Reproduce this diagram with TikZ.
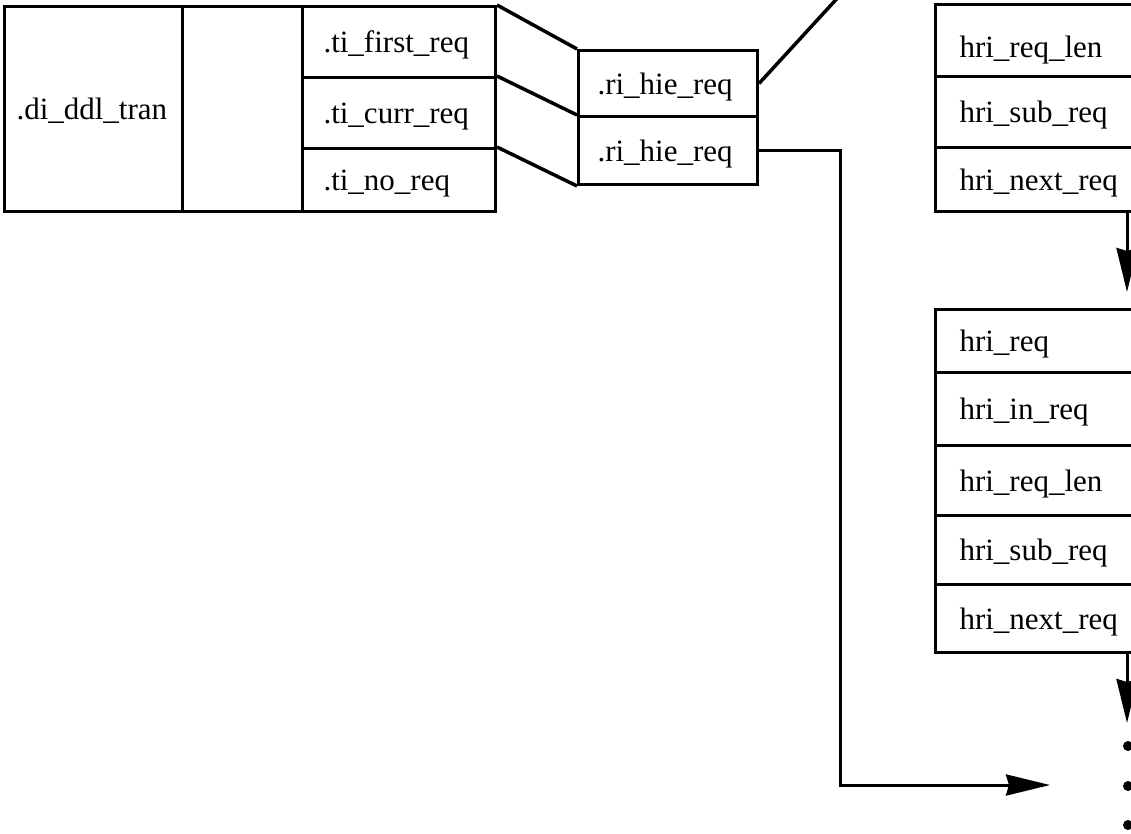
\documentclass[tikz,border=0pt]{standalone}
\usepackage{fontspec}
\setmainfont{Liberation Serif}
\usetikzlibrary{arrows.meta}
\begin{document}
\begin{tikzpicture}[x=1pt,y=-1pt,
  cell/.style={draw, line width=3pt, anchor=north west, inner ysep=0pt, align=left,
    text height=28pt, text depth=6.6pt, font=\fontsize{31}{36}\selectfont},
  low/.style={text height=40pt},
  lcell/.style={cell, inner xsep=12pt, text width=154pt},
  tcell/.style={cell, inner xsep=21pt, text width=151pt},
  mcell/.style={cell, inner xsep=19pt, text width=141pt},
  rcell/.style={cell, inner xsep=24pt, text width=232pt},
  conn/.style={line width=3.5pt},
  arr/.style={line width=3pt, -{Stealth[length=44pt,width=21pt,inset=3pt]}},
  dot/.style={circle, fill, inner sep=0pt, minimum size=10pt},
]
\useasboundingbox (0,0) rectangle (1131,833);
\clip (0,0) rectangle (1131,833);

% left structure
\node[lcell, minimum height=205pt] (A) at (3,5) {.di\_ddl\_tran};
\node[cell, minimum width=120pt, minimum height=205pt] (B) at (181,5) {};
\node[tcell, minimum height=71pt] (C1) at (301,5) {.ti\_first\_req};
\node[tcell, minimum height=71pt] (C2) at (301,76) {.ti\_curr\_req};
\node[tcell, minimum height=63pt] (C3) at (301,147) {.ti\_no\_req};

% middle structure
\node[mcell, minimum height=66pt] (M1) at (577,49) {.ri\_hie\_req};
\node[mcell, minimum height=68pt] (M2) at (577,115) {.ri\_hie\_req};

% right structure, first element
\node[rcell, low, minimum height=72pt] (R1a) at (934,3) {hri\_req\_len};
\node[rcell, minimum height=71pt] (R1b) at (934,75) {hri\_sub\_req};
\node[rcell, minimum height=64pt] (R1c) at (934,146) {hri\_next\_req};

% right structure, second element
\node[rcell, minimum height=63pt] (R2a) at (934,308) {hri\_req};
\node[rcell, minimum height=73pt] (R2b) at (934,371) {hri\_in\_req};
\node[rcell, minimum height=70pt] (R2c) at (934,444) {hri\_req\_len};
\node[rcell, minimum height=69pt] (R2d) at (934,514) {hri\_sub\_req};
\node[rcell, minimum height=68pt] (R2e) at (934,583) {hri\_next\_req};

% continuation dots
\node[dot] (d1) at (1128,746) {};
\node[dot] (d2) at (1128,786) {};
\node[dot] (d3) at (1128,825) {};

% fan lines
\draw[conn] (C1.north east) -- (M1.north west);
\draw[conn] (C2.north east) -- (M2.north west);
\draw[conn] (C3.north east) -- (M2.south west);

% pointer up to the first element
\coordinate (up) at (854,-20);
\draw[conn] (M1.east) -- (up);

% pointer to the end of the list
\coordinate (corner) at (840,785);
\coordinate (tipR) at (1050,785);
\draw[arr] (M2.east) -| (corner) -- (tipR);

% next links
\coordinate (ax) at (1127,0);
\draw[arr, shorten >=16pt] (ax |- R1c.south) -- (ax |- R2a.north);
\draw[arr, shorten >=23pt] (ax |- R2e.south) -- (ax |- d1);
\end{tikzpicture}
\end{document}
